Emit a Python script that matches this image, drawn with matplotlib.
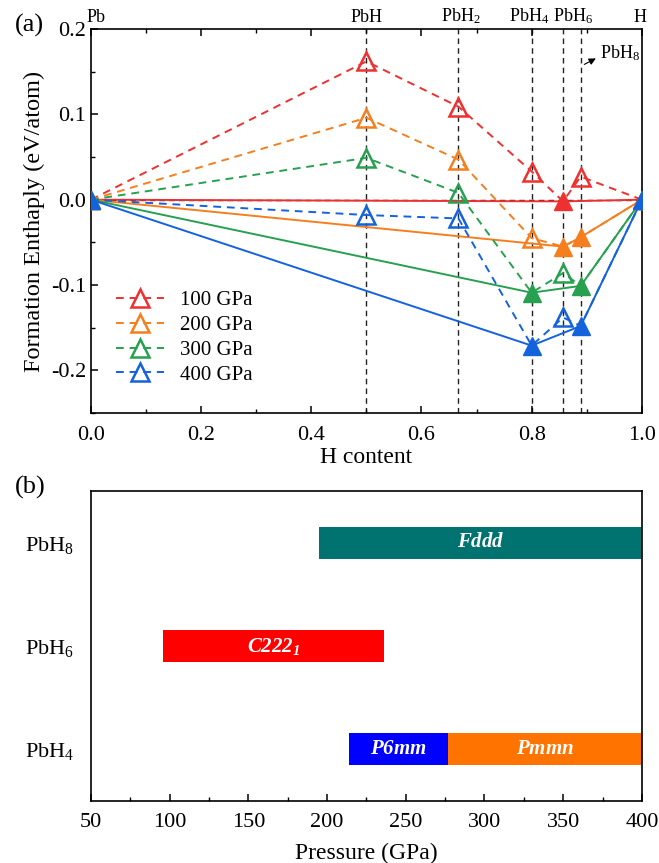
import matplotlib
matplotlib.use("Agg")
import matplotlib.pyplot as plt
from matplotlib.ticker import MultipleLocator

plt.rcParams['font.family'] = ['Liberation Serif', 'DejaVu Serif']
plt.rcParams['mathtext.fontset'] = 'custom'
plt.rcParams['mathtext.rm'] = 'Liberation Serif'
plt.rcParams['mathtext.it'] = 'Liberation Serif:italic'
plt.rcParams['mathtext.bf'] = 'Liberation Serif:italic:bold'
plt.rcParams['axes.unicode_minus'] = False

# ---------------- data: panel (a) ----------------
compounds = ["Pb", "PbH", "PbH$_2$", "PbH$_4$", "PbH$_6$", "PbH$_8$", "H"]
h_content = [0.0, 0.5, 0.667, 0.8, 0.857, 0.889, 1.0]
pressures = ["100 GPa", "200 GPa", "300 GPa", "400 GPa"]
enthalpy_100 = [0.0, 0.162, 0.109, 0.033, -0.002, 0.027, 0.0]
enthalpy_200 = [0.0, 0.096, 0.047, -0.045, -0.055, -0.044, 0.0]
enthalpy_300 = [0.0, 0.049, 0.008, -0.109, -0.086, -0.101, 0.0]
enthalpy_400 = [0.0, -0.018, -0.022, -0.171, -0.138, -0.148, 0.0]
# indices of compounds on the convex hull for each pressure
hull_100 = [0, 4, 6]
hull_200 = [0, 4, 5, 6]
hull_300 = [0, 3, 5, 6]
hull_400 = [0, 3, 5, 6]
colors = ['#EE3030', '#F57F1E', '#27A050', '#1462DC']

# ---------------- data: panel (b) ----------------
phases = ["PbH$_4$", "PbH$_6$", "PbH$_8$"]
bar_rows = [0, 0, 1, 2]
bar_start = [214, 277, 96, 195]
bar_end = [277, 400, 236, 400]
bar_names = ["$\\mathbf{P6mm}$", "$\\mathbf{Pmmn}$", "$\\mathbf{C222_1}$", "$\\mathbf{Fddd}$"]
bar_colors = ['#0000FF', '#FF7300', '#FF0000', '#007370']

fig = plt.figure(figsize=(6.59, 8.63), dpi=100)
ax = fig.add_axes([0.138, 0.5214, 0.836, 0.4450])
bx = fig.add_axes([0.138, 0.0718, 0.836, 0.3592])

# reference dashed lines
for x in h_content[1:6]:
    ax.axvline(x, color='#222222', lw=1.0, ls=(0, (4, 3)), zorder=1)
ax.axhline(0, color='#222222', lw=1.0, ls=(0, (4, 3)), zorder=1)

all_e = [enthalpy_100, enthalpy_200, enthalpy_300, enthalpy_400]
all_h = [hull_100, hull_200, hull_300, hull_400]
handles = []
for e, hull, c, lab in zip(all_e, all_h, colors, pressures):
    ax.plot(h_content, e, color=c, lw=1.4, ls=(0, (4, 3)), zorder=2)
    hx = [h_content[i] for i in hull]
    hy = [e[i] for i in hull]
    ax.plot(hx, hy, color=c, lw=1.4, zorder=2)
    ox = [h_content[i] for i in range(len(e)) if i not in hull]
    oy = [e[i] for i in range(len(e)) if i not in hull]
    ax.plot(ox, oy, ls='none', marker='^', ms=13, mfc='none', mec=c, mew=1.8, zorder=3)
    ax.plot(hx, hy, ls='none', marker='^', ms=13, mfc=c, mec=c, mew=1.0, zorder=4)
    h, = ax.plot([], [], color=c, lw=1.4, ls=(0, (4, 3)), marker='^', ms=13,
                 mfc='none', mec=c, mew=1.8, label=lab)
    handles.append(h)

ax.set_xlim(0, 1)
ax.set_ylim(-0.25, 0.2)
ax.xaxis.set_minor_locator(MultipleLocator(0.1))
ax.yaxis.set_minor_locator(MultipleLocator(0.05))
ax.set_yticks([-0.2, -0.1, 0.0, 0.1, 0.2])
ax.set_yticklabels(["-0.2", "-0.1", "0.0", "0.1", "0.2"])
ax.set_xticks([0.0, 0.2, 0.4, 0.6, 0.8, 1.0])
ax.set_xticklabels(["0.0", "0.2", "0.4", "0.6", "0.8", "1.0"])
ax.tick_params(which='both', direction='in', top=True, right=False, labelsize=16)
ax.tick_params(which='major', length=5, width=1.1)
ax.tick_params(which='minor', length=3, width=1.0)
ax.tick_params(axis='x', which='major', pad=9)
ax.set_xlabel("H content", fontsize=17, labelpad=2)
ax.set_ylabel("Formation Enthaply (eV/atom)", fontsize=17.5, labelpad=4)
for s in ax.spines.values():
    s.set_linewidth(1.2)

label_x = [0.009, 0.5, 0.671, 0.795, 0.875, None, 0.997]
for name, lx in zip(compounds, label_x):
    if lx is None:
        continue
    ax.text(lx, 1.008, name, transform=ax.get_xaxis_transform(), ha='center',
            va='bottom', fontsize=13)
ax.annotate('', xy=(0.921, 0.167), xytext=(0.891, 0.157),
            arrowprops=dict(arrowstyle='-|>', color='k', lw=0.8, mutation_scale=10))
ax.text(0.924, 0.172, compounds[5], fontsize=13, ha='left', va='center')

leg = ax.legend(handles=handles, loc='upper left', bbox_to_anchor=(0.03, 0.34),
                frameon=False, fontsize=15, handlelength=2.3, handletextpad=0.8,
                labelspacing=0.25, borderaxespad=0)

fig.text(0.023, 0.971, "(a)", fontsize=19, va='center', ha='left')
fig.text(0.023, 0.435, "(b)", fontsize=19, va='center', ha='left')

# panel (b)
for r, s, e, n, c in zip(bar_rows, bar_start, bar_end, bar_names, bar_colors):
    bx.barh(r, e - s, left=s, height=0.31, color=c, zorder=2)
    bx.text((s + e) / 2, r, n, color='white', ha='center', va='center',
            fontsize=15, zorder=3)
bx.set_xlim(50, 400)
bx.set_ylim(-0.5, 2.5)
bx.set_yticks([0, 1, 2])
bx.set_yticklabels(phases, fontsize=16)
bx.xaxis.set_major_locator(MultipleLocator(50))
bx.xaxis.set_minor_locator(MultipleLocator(25))
bx.tick_params(axis='x', which='both', direction='in', labelsize=16)
bx.tick_params(axis='x', which='major', length=5, width=1.1, pad=8.5)
bx.tick_params(axis='x', which='minor', length=3, width=1.0)
bx.tick_params(axis='y', length=0, pad=12)
bx.set_xlabel("Pressure (GPa)", fontsize=17, labelpad=8)
for s in bx.spines.values():
    s.set_linewidth(1.2)

fig.savefig("out.png", dpi=100)
